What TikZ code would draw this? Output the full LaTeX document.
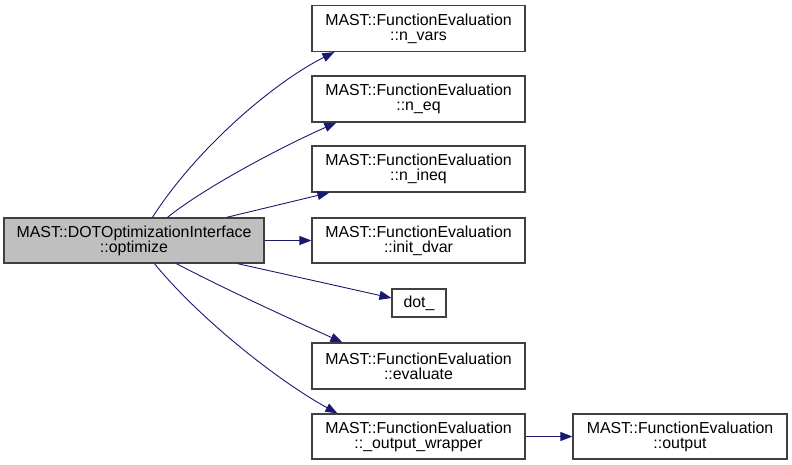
\documentclass[tikz,border=0pt]{standalone}
\usepackage{fontspec}
\setmainfont{Liberation Sans}
\usetikzlibrary{arrows.meta,calc}
\definecolor{edgeblue}{RGB}{25,25,112}
\definecolor{boxgray}{RGB}{191,191,191}
\definecolor{boxline}{RGB}{64,64,64}

\begin{document}
\begin{tikzpicture}[x=1pt,y=-1pt,
  fbox/.style={draw=boxline,line width=1.2pt,fill=white,inner sep=0pt,
    minimum width=213pt,minimum height=46pt,align=center,
    font=\fontsize{15.9}{15}\selectfont},
  call/.style={draw=edgeblue,line width=0.9pt,-{Triangle[length=12pt,width=9pt]}}]
\useasboundingbox (0,0) rectangle (792,465);

\node[fbox,fill=boxgray,minimum width=260pt,minimum height=45pt] (opt) at (134,240.5)
  {MAST::DOTOptimizationInterface\\::optimize};

\node[fbox] (vars) at (418.5,28.5) {MAST::FunctionEvaluation\\::n\_vars};
\node[fbox] (eq) at (418.5,99) {MAST::FunctionEvaluation\\::n\_eq};
\node[fbox] (ineq) at (418.5,169) {MAST::FunctionEvaluation\\::n\_ineq};
\node[fbox,minimum height=45pt] (dvar) at (418.5,240.5) {MAST::FunctionEvaluation\\::init\_dvar};
\node[fbox,minimum width=54pt,minimum height=28pt] (dot) at (419,303) {dot\_};
\node[fbox] (eval) at (418.5,366) {MAST::FunctionEvaluation\\::evaluate};
\node[fbox,minimum height=45pt] (wrap) at (418.5,436.5) {MAST::FunctionEvaluation\\::\_output\_wrapper};
\node[fbox,minimum width=214pt,minimum height=45pt] (out) at (680,436.5) {MAST::FunctionEvaluation\\::output};

% calls from optimize
\draw[call] ([xshift=149pt]opt.north west) .. controls +(45,-70) and +(-60,30) .. ([xshift=23pt]vars.south west);
\draw[call] ([xshift=164pt]opt.north west) .. controls +(40,-32) and +(-50,22) .. ([xshift=25pt]eq.south west);
\draw[call] ([xshift=223pt]opt.north west) -- ([xshift=18pt]ineq.south west);
\draw[call] (opt.east) -- (dvar.west);
\draw[call] ([xshift=234pt]opt.south west) -- ([yshift=5pt]dot.west);
\draw[call] ([xshift=173pt]opt.south west) .. controls +(45,24) and +(-40,-18) .. ([xshift=31pt]eval.north west);
\draw[call] ([xshift=151pt]opt.south west) .. controls +(45,55) and +(-60,-33) .. ([xshift=26pt]wrap.north west);

\draw[call] (wrap.east) -- (out.west);
\end{tikzpicture}
\end{document}
